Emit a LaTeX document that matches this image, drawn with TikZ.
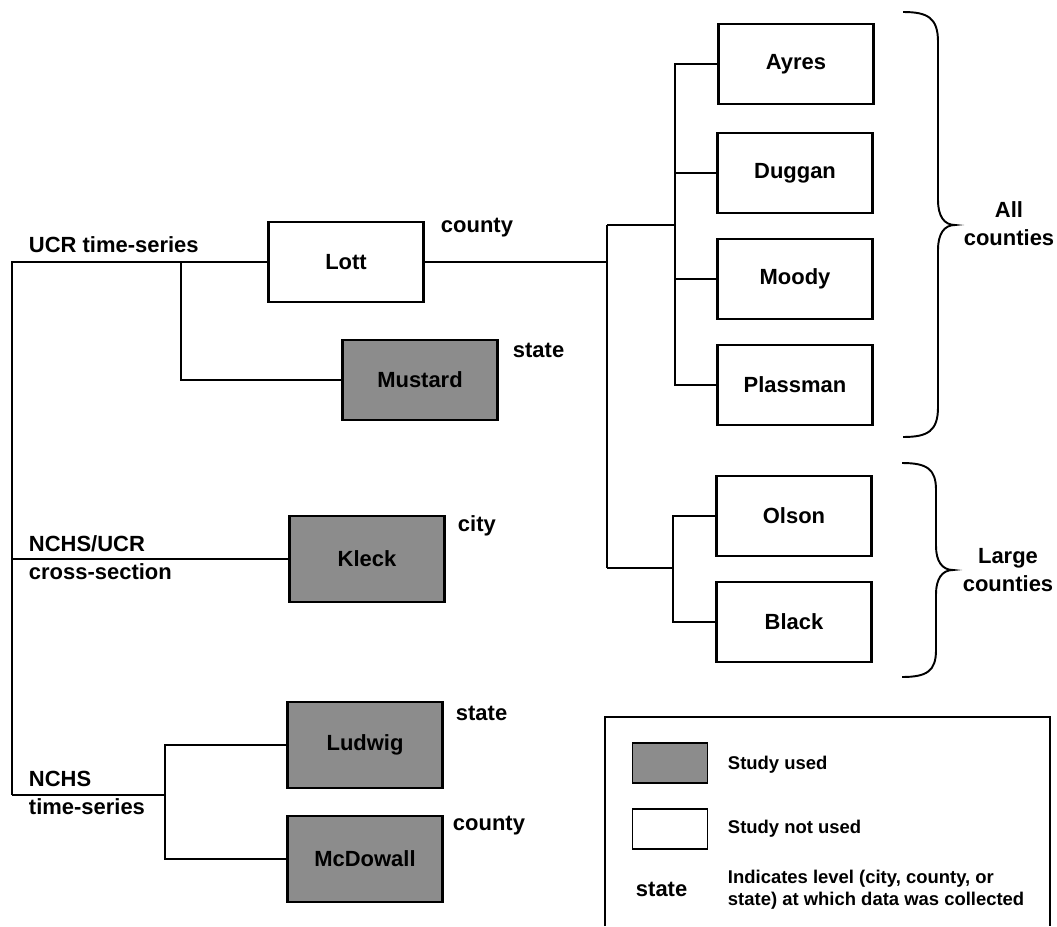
\documentclass[tikz,border=0pt]{standalone}
\usepackage{fontspec}
\setmainfont{Liberation Sans}
\definecolor{usedgray}{RGB}{140,140,140}

\begin{document}
\begin{tikzpicture}[x=0.02cm, y=-0.02cm, line width=1.1pt,
		study/.style={shape=rectangle, draw, line width=1.3pt, minimum width=3.1cm, minimum height=1.6cm, font=\fontsize{12.5}{15}\selectfont\bfseries},
		used/.style={study, fill=usedgray},
		tall/.style={minimum height=1.72cm},
		swatch/.style={minimum width=1.5cm, minimum height=0.8cm, line width=1pt},
		lvl/.style={anchor=west, inner sep=0pt, align=left, font=\fontsize{12.5}{16}\selectfont\bfseries},
		keytext/.style={anchor=west, inner sep=0pt, align=left, font=\fontsize{10.5}{12.5}\selectfont\bfseries}]
		% Paths, nodes and wires:
		\useasboundingbox (0, 0) rectangle (1057, 926);
		\node[study] (lott) at (346, 262){Lott};
		\node[used] (mustard) at (420, 380){Mustard};
		\node[used, tall] (kleck) at (367, 559){Kleck};
		\node[used, tall] (ludwig) at (365, 745){Ludwig};
		\node[used, tall] (mcdowall) at (365, 859){McDowall};
		\node[study] (ayres) at (796, 64){Ayres};
		\node[study] (duggan) at (795, 173){Duggan};
		\node[study] (moody) at (795, 279){Moody};
		\node[study] (plassman) at (795, 385){Plassman};
		\node[study] (olson) at (794, 516){Olson};
		\node[study] (black) at (794, 622){Black};
		\coordinate (ucr) at (12, 262);
		\coordinate (nchs) at (12, 795);
		\coordinate (mbranch) at (181, 262);
		\coordinate (nbranch) at (165, 795);
		\coordinate (split) at (607, 262);
		\coordinate (allc) at (607, 225);
		\coordinate (largec) at (607, 568);
		\coordinate (comba) at (675, 225);
		\coordinate (combb) at (673, 568);
		\draw (nchs) -- (ucr) -- (lott.west);
		\draw (mbranch) |- (mustard.west);
		\draw (ucr |- kleck.west) -- (kleck.west);
		\draw (nchs) -- (nbranch);
		\draw (ludwig.west) -| (nbranch) |- (mcdowall.west);
		\draw (lott.east) -- (split);
		\draw (allc) -- (largec);
		\draw (allc) -- (comba);
		\draw (ayres.west) -| (comba) |- (plassman.west);
		\foreach \s in {duggan, moody} \draw (\s.west) -- (comba |- \s.west);
		\draw (largec) -- (combb);
		\draw (olson.west) -| (combb) |- (black.west);
		% braces
		\draw (903, 12) .. controls (928, 12) and (938, 18) .. (938, 42) -- (938, 200) .. controls (938, 216) and (944, 225) .. (955, 225) .. controls (944, 225) and (938, 234) .. (938, 250) -- (938, 407) .. controls (938, 431) and (928, 437) .. (903, 437);
		\draw (902, 463) .. controls (927, 463) and (936, 469) .. (936, 490) -- (936, 546) .. controls (936, 561) and (942, 570) .. (953, 570) .. controls (942, 570) and (936, 579) .. (936, 594) -- (936, 650) .. controls (936, 671) and (927, 677) .. (902, 677);
		\node[lvl, anchor=center, align=center] (allcty) at (1009, 224){All\\counties};
		\node[lvl, anchor=center, align=center] (largecty) at (1008, 570){Large\\counties};
		\node[lvl] (ucrts) at (28, 245){UCR time-series};
		\node[lvl] (nchsucr) at (28, 558){NCHS/UCR\\cross-section};
		\node[lvl] (nchsts) at (28, 793){NCHS\\time-series};
		\node[lvl] (lottlvl) at (440, 228){county};
		\node[lvl] (mustlvl) at (512, 350){state};
		\node[lvl] (klecklvl) at (457, 526){city};
		\node[lvl] (ludlvl) at (455, 713){state};
		\node[lvl] (mcdlvl) at (452, 826){county};
		% legend
		\draw[line width=0.8pt] (605, 926) -- (605, 717) -- (1050, 717) -- (1050, 926);
		\node[used, swatch] (keyused) at (670, 763){};
		\node[study, swatch] (keynot) at (670, 829){};
		\node[keytext] (usedtxt) at (727, 765){Study used};
		\node[keytext] (nottxt) at (727, 829){Study not used};
		\node[lvl] (keylvl) at (635, 889){state};
		\node[keytext] (lvltxt) at (727, 890){Indicates level (city, county, or\\state) at which data was collected};
	\end{tikzpicture}
\end{document}
